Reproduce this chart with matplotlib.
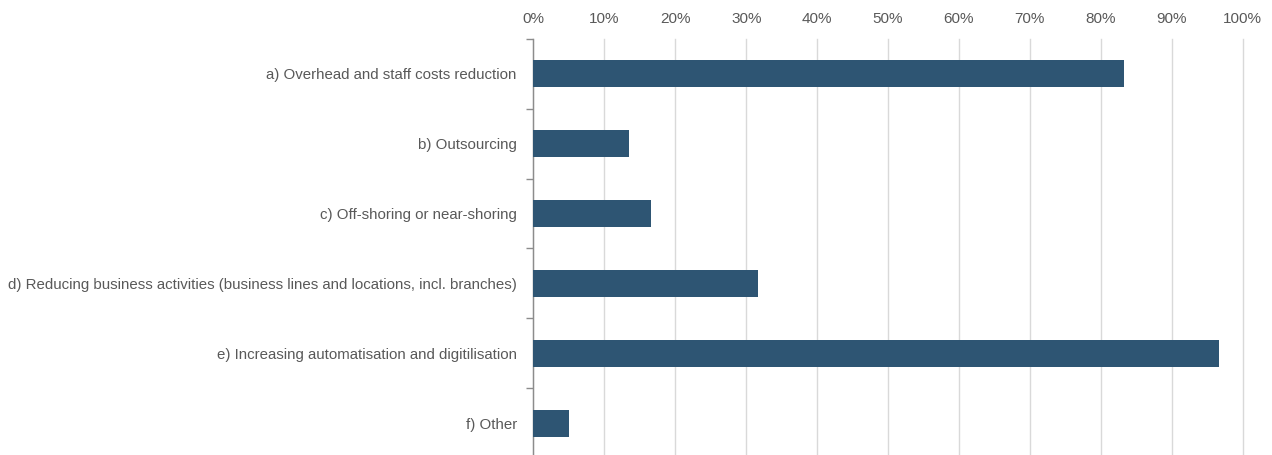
import matplotlib.pyplot as plt
from matplotlib.ticker import PercentFormatter, FixedLocator

categories = [
    "a) Overhead and staff costs reduction",
    "b) Outsourcing",
    "c) Off-shoring or near-shoring",
    "d) Reducing business activities (business lines and locations, incl. branches)",
    "e) Increasing automatisation and digitilisation",
    "f) Other",
]
values = [83.3, 13.4, 16.6, 31.6, 96.6, 5.0]

bar_color = "#2E5573"
text_color = "#595959"

plt.rcParams["font.family"] = ["Liberation Sans", "DejaVu Sans"]

fig = plt.figure(figsize=(12.72, 4.55), dpi=100)
ax = fig.add_axes([0.4194, -0.007, 0.5575, 0.922])

pos = list(range(len(categories)))
ax.barh(pos, values, height=0.39, color=bar_color, zorder=3)
ax.set_ylim(len(categories) - 0.5, -0.5)
ax.set_xlim(0, 100)

ax.xaxis.set_major_locator(FixedLocator(range(0, 101, 10)))
ax.xaxis.set_major_formatter(PercentFormatter(decimals=0))
ax.xaxis.tick_top()
ax.tick_params(axis="x", length=0, pad=9, labelsize=11, labelcolor=text_color)
ax.grid(axis="x", color="#D9D9D9", linewidth=1, zorder=0)
for gl in ax.get_xgridlines():
    gl.set_clip_on(False)

ax.set_yticks(pos)
ax.set_yticklabels(categories)
ax.tick_params(axis="y", which="major", length=0, pad=12, labelsize=10.8,
               labelcolor=text_color)
ax.yaxis.set_minor_locator(FixedLocator([p - 0.5 for p in pos] + [len(pos) - 0.5]))
ax.tick_params(axis="y", which="minor", length=5, width=1, color="#8C8C8C")

for side in ("top", "right", "bottom"):
    ax.spines[side].set_visible(False)
ax.spines["left"].set_color("#8C8C8C")
ax.spines["left"].set_linewidth(1)

fig.savefig("out.png", dpi=100)
